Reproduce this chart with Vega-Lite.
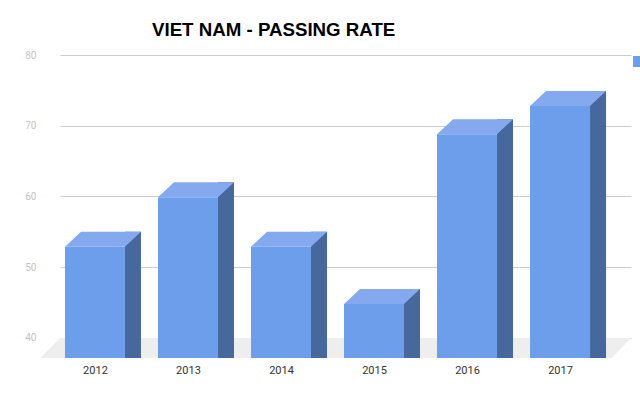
{
  "$schema": "https://vega.github.io/schema/vega-lite/v6.json",
  "width": 571,
  "height": 303,
  "autosize": {"type": "none"},
  "padding": {"left": 60, "top": 55, "right": 9, "bottom": 37},
  "background": "white",
  "title": {"text": "VIET NAM - PASSING RATE", "anchor": "start", "frame": "group", "dx": 92, "offset": 10, "font": "Liberation Sans", "fontSize": 18.7, "fontWeight": "bold", "color": "#000000"},
  "config": {"view": {"stroke": null}},
  "datasets": {
    "bars": [
      {"year": 2012, "rate": 52.9, "series": "Passing rate"},
      {"year": 2013, "rate": 59.9, "series": "Passing rate"},
      {"year": 2014, "rate": 52.9, "series": "Passing rate"},
      {"year": 2015, "rate": 44.8, "series": "Passing rate"},
      {"year": 2016, "rate": 68.8, "series": "Passing rate"},
      {"year": 2017, "rate": 72.8, "series": "Passing rate"}
    ],
    "floor": [
      {"year": 2011.41, "back": 37.17, "front": 37.17},
      {"year": 2011.624, "back": 40, "front": 37.17},
      {"year": 2017.559, "back": 40, "front": 37.17},
      {"year": 2017.763, "back": 40, "front": 40}
    ]
  },
  "encoding": {
    "x": {
      "type": "quantitative",
      "scale": {"domain": [2011.624, 2017.763], "nice": false, "zero": false, "padding": 0},
      "axis": {"values": [2012, 2013, 2014, 2015, 2016, 2017], "format": "d", "title": null, "grid": false, "domain": false, "ticks": false, "labelPadding": 6, "labelFont": "Roboto", "labelFontSize": 11, "labelColor": "#333333"}
    }
  },
  "layer": [
    {
      "data": {"name": "floor"},
      "mark": {"type": "area", "color": "#eeeeee", "interpolate": "linear", "clip": false},
      "encoding": {
        "x": {"field": "year", "type": "quantitative"},
        "y": {
          "field": "back",
          "type": "quantitative",
          "scale": {"domain": [37.17, 80], "nice": false, "zero": false, "padding": 0},
          "axis": {"values": [40, 50, 60, 70, 80], "title": null, "grid": true, "gridColor": "#cccccc", "gridWidth": 1, "domain": false, "ticks": false, "labelPadding": 24, "labelFont": "Roboto", "labelFontSize": 10, "labelColor": "#c4c4c4"}
        },
        "y2": {"field": "front"}
      }
    },
    {
      "data": {"name": "bars"},
      "mark": {"type": "bar", "color": "#46689c", "size": 16, "xOffset": 38, "yOffset": -15},
      "encoding": {
        "x": {"field": "year", "type": "quantitative"},
        "y": {"field": "rate", "type": "quantitative"},
        "y2": {"datum": 37.17}
      }
    },
    {
      "data": {"name": "bars"},
      "mark": {"type": "bar", "size": 60},
      "encoding": {
        "x": {"field": "year", "type": "quantitative"},
        "y": {"field": "rate", "type": "quantitative"},
        "y2": {"datum": 37.17},
        "color": {
          "field": "series",
          "type": "nominal",
          "scale": {"range": ["#6d9eeb"]},
          "legend": {"orient": "none", "legendX": 573, "legendY": 1, "title": null, "symbolType": "square", "symbolSize": 121, "symbolStrokeWidth": 0, "labelExpr": "''"}
        }
      }
    },
    {
      "data": {"name": "bars"},
      "mark": {"type": "point", "filled": true, "opacity": 1, "color": "#85a9ef", "size": 5776, "shape": "M-0.789 0L0.789 0L1.21 -0.395L-0.368 -0.395Z"},
      "encoding": {
        "x": {"field": "year", "type": "quantitative"},
        "y": {"field": "rate", "type": "quantitative"}
      }
    }
  ]
}
